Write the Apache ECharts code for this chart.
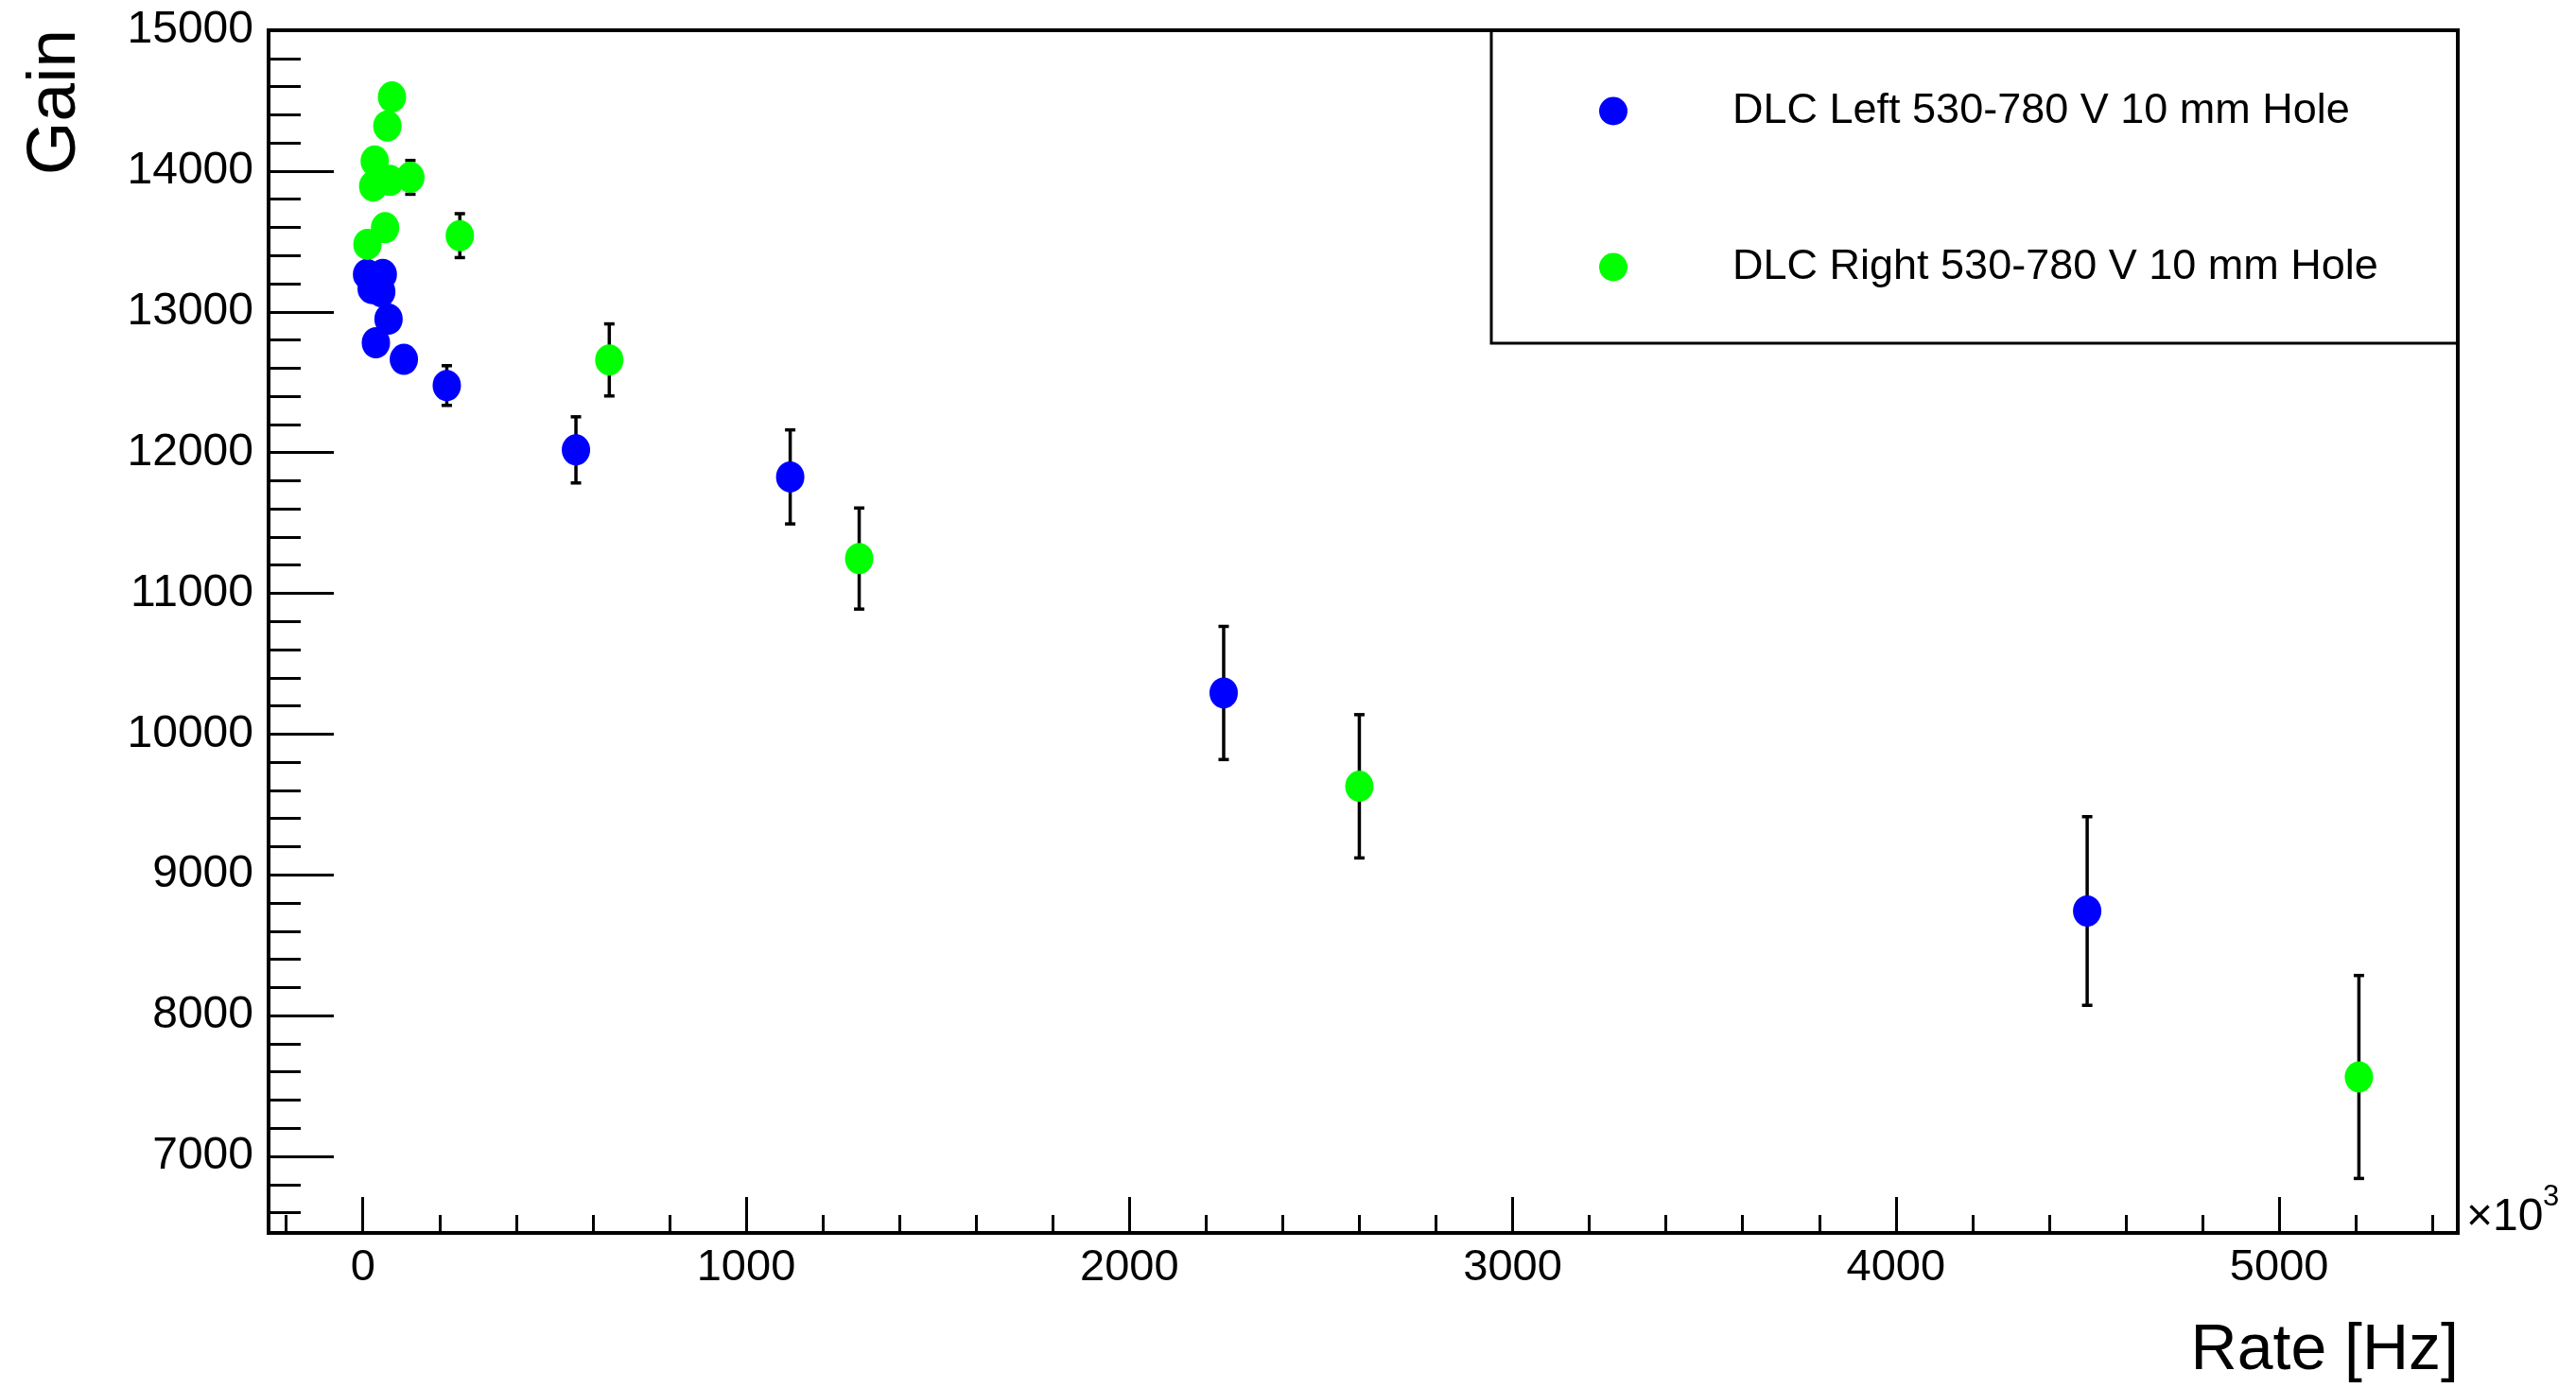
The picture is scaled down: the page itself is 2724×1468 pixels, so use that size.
<!DOCTYPE html>
<html>
<head>
<meta charset="utf-8">
<script src="https://cdn.jsdelivr.net/npm/echarts@6/dist/echarts.min.js"></script>
<style>
  html, body { margin: 0; padding: 0; background: #fff; }
  #chart { width: 2724px; height: 1468px; }
</style>
</head>
<body>
<div id="chart"></div>
<script>
// DLC Left 530-780 V 10 mm Hole
const leftRate = [11, 52, 23, 48, 67, 34, 107, 219, 556, 1115, 2246, 4499];
const leftGain = [13266, 13266, 13165, 13143, 12948, 12780, 12662, 12476, 12019, 11827, 10292, 8743];
const leftErr = [70, 75, 70, 75, 80, 75, 85, 141, 235, 334, 473, 670];

// DLC Right 530-780 V 10 mm Hole
const rightRate = [76, 64, 31, 27, 71, 124, 58, 12, 253, 643, 1295, 2600, 5208];
const rightGain = [14526, 14320, 14071, 13892, 13933, 13955, 13597, 13479, 13541, 12658, 11247, 9629, 7564];
const rightErr = [90, 85, 85, 80, 85, 120, 80, 75, 156, 256, 359, 509, 721];

const legendNames = ['DLC Left 530-780 V 10 mm Hole', 'DLC Right 530-780 V 10 mm Hole'];

// axis ranges and ticks (x in units of 10^3 Hz)
const xRange = [-246, 5466];
const yRange = [6456, 15000];
const xMajorTicks = [0, 1000, 2000, 3000, 4000, 5000];
const yMajorTicks = [7000, 8000, 9000, 10000, 11000, 12000, 13000, 14000, 15000];
const xMinorTicks = [];
for (let v = -200; v <= 5400; v += 200) if (v % 1000 !== 0) xMinorTicks.push(v);
const yMinorTicks = [];
for (let v = 6600; v <= 14800; v += 200) if (v % 1000 !== 0) yMinorTicks.push(v);

const FONT = 'Liberation Sans';
const dot = 'path://M50 0A50 50 0 1 1 50 100A50 50 0 1 1 50 0Z';

const chart = echarts.init(document.getElementById('chart'));

const errorBars = (name, rate, gain, err) => ({
  name: name,
  type: 'custom',
  silent: true,
  z: 1,
  data: rate.map((r, i) => [r, gain[i], err[i]]),
  renderItem: (params, api) => {
    const x = api.value(0), y = api.value(1), e = api.value(2);
    const top = api.coord([x, y + e]);
    const bot = api.coord([x, y - e]);
    const cap = 5.5;
    const style = { stroke: '#000', lineWidth: 3.5 };
    return {
      type: 'group',
      children: [
        { type: 'line', shape: { x1: top[0], y1: top[1], x2: bot[0], y2: bot[1] }, style: style },
        { type: 'line', shape: { x1: top[0] - cap, y1: top[1], x2: top[0] + cap, y2: top[1] }, style: style },
        { type: 'line', shape: { x1: bot[0] - cap, y1: bot[1], x2: bot[0] + cap, y2: bot[1] }, style: style }
      ]
    };
  }
});

const points = (name, rate, gain, color) => ({
  name: name,
  type: 'scatter',
  z: 3,
  symbol: dot,
  symbolSize: [30, 33],
  itemStyle: { color: color, opacity: 1 },
  data: rate.map((r, i) => [r, gain[i]])
});

const tickLine = { color: '#000', width: 3 };

const option = {
  animation: false,
  backgroundColor: '#fff',
  grid: {
    left: 284, right: 125, top: 32, bottom: 164,
    containLabel: false,
    outerBoundsMode: 'none',
    show: true,
    borderColor: '#000',
    borderWidth: 4
  },
  xAxis: [
    {
      type: 'value', min: xRange[0], max: xRange[1], position: 'bottom',
      axisLine: { show: true, onZero: false, lineStyle: { color: '#000', width: 4 } },
      axisTick: { show: true, inside: true, length: 38, customValues: xMajorTicks, lineStyle: tickLine },
      axisLabel: {
        customValues: xMajorTicks, margin: 14, fontSize: 47, fontFamily: FONT, color: '#000',
        formatter: v => String(v)
      },
      splitLine: { show: false }
    },
    {
      type: 'value', min: xRange[0], max: xRange[1], position: 'bottom',
      axisLine: { show: false, onZero: false },
      axisTick: { show: true, inside: true, length: 19, customValues: xMinorTicks, lineStyle: tickLine },
      axisLabel: { show: false },
      splitLine: { show: false }
    }
  ],
  yAxis: [
    {
      type: 'value', min: yRange[0], max: yRange[1], position: 'left',
      axisLine: { show: true, onZero: false, lineStyle: { color: '#000', width: 4 } },
      axisTick: { show: true, inside: true, length: 69, customValues: yMajorTicks, lineStyle: tickLine },
      axisLabel: {
        customValues: yMajorTicks, margin: 16, fontSize: 48, fontFamily: FONT, color: '#000',
        formatter: v => String(v)
      },
      splitLine: { show: false }
    },
    {
      type: 'value', min: yRange[0], max: yRange[1], position: 'left',
      axisLine: { show: false, onZero: false },
      axisTick: { show: true, inside: true, length: 34, customValues: yMinorTicks, lineStyle: tickLine },
      axisLabel: { show: false },
      splitLine: { show: false }
    }
  ],
  legend: {
    data: legendNames,
    orient: 'vertical',
    left: 1691,
    top: 95,
    padding: 0,
    itemWidth: 30,
    itemHeight: 33,
    itemGap: 120,
    icon: dot,
    selectedMode: false,
    textStyle: { fontSize: 45, fontFamily: FONT, color: '#000', padding: [0, 0, 0, 106] }
  },
  graphic: [
    {
      type: 'rect', z: 10, silent: true,
      shape: { x: 1577, y: 32, width: 1022, height: 331 },
      style: { fill: null, stroke: '#000', lineWidth: 3 }
    },
    {
      type: 'text', x: 59, y: 31, rotation: Math.PI / 2,
      style: { text: 'Gain', fontSize: 73, fontFamily: FONT, fill: '#000', align: 'right', verticalAlign: 'middle' }
    },
    {
      type: 'text', x: 2600, y: 1429,
      style: { text: 'Rate [Hz]', fontSize: 68, fontFamily: FONT, fill: '#000', align: 'right', verticalAlign: 'middle' }
    },
    {
      type: 'text', x: 2608, y: 1288,
      style: { text: '×10', fontSize: 48, fontFamily: FONT, fill: '#000', align: 'left', verticalAlign: 'middle' }
    },
    {
      type: 'text', x: 2689, y: 1266,
      style: { text: '3', fontSize: 31, fontFamily: FONT, fill: '#000', align: 'left', verticalAlign: 'middle' }
    }
  ],
  series: [
    errorBars('leftErr', leftRate, leftGain, leftErr),
    errorBars('rightErr', rightRate, rightGain, rightErr),
    points(legendNames[0], leftRate, leftGain, '#0000ff'),
    points(legendNames[1], rightRate, rightGain, '#00ff00')
  ]
};

chart.setOption(option);
</script>
</body>
</html>
